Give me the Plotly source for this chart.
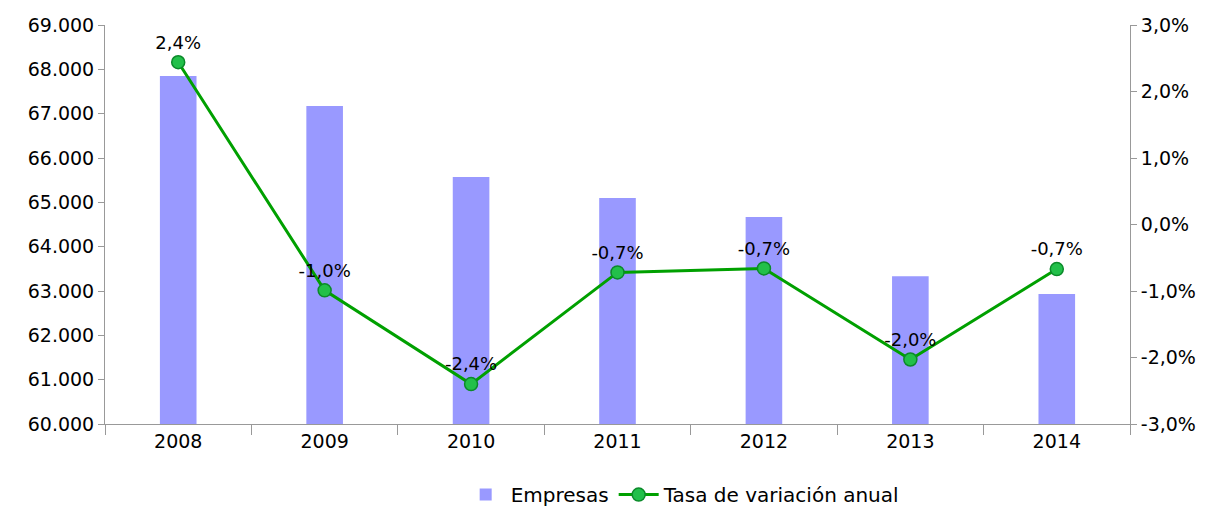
import plotly.graph_objects as go

years = ["2008", "2009", "2010", "2011", "2012", "2013", "2014"]
empresas = [67850, 67175, 65570, 65095, 64670, 63335, 62935]
tasa = [0.0244, -0.0099, -0.0240, -0.0072, -0.0066, -0.0203, -0.0067]

left_ticks = list(range(60000, 69001, 1000))
right_ticks = [-0.03, -0.02, -0.01, 0.0, 0.01, 0.02, 0.03]


def fmt_thousands(v):
    return f"{v:,d}".replace(",", ".")


def fmt_pct(v):
    s = f"{v * 100:.1f}".replace(".", ",")
    return s + "%"


FONT = "DejaVu Sans"

fig = go.Figure()
fig.add_trace(go.Bar(
    x=years, y=empresas, name="Empresas",
    marker=dict(color="#9999FF", line=dict(width=0)),
    width=0.25, yaxis="y",
))
fig.add_trace(go.Scatter(
    x=years, y=tasa, name="Tasa de variación anual",
    mode="lines+markers+text",
    line=dict(color="#00A000", width=3),
    marker=dict(size=13, color="#22C04A", line=dict(color="#0B8A2A", width=1.5)),
    texttemplate="%{y:.1%}", textposition="top center",
    textfont=dict(family=FONT, size=18, color="#000000"),
    yaxis="y2", cliponaxis=False,
))

fig.update_layout(
    width=1212, height=512,
    separators=",.",
    paper_bgcolor="white", plot_bgcolor="white",
    font=dict(family=FONT, size=19, color="#000000"),
    margin=dict(l=105, r=82, t=25, b=88, autoexpand=False),
    showlegend=True,
    legend=dict(orientation="h", x=0.347, xanchor="left", y=-0.128, yanchor="top",
                font=dict(family=FONT, size=20), traceorder="normal",
                itemwidth=40),
    xaxis=dict(
        type="category", showline=True, linecolor="#999999", linewidth=1,
        ticks="outside", tickson="boundaries", ticklen=10, tickcolor="#999999",
        showgrid=False, zeroline=False, tickfont=dict(size=19),
    ),
    yaxis=dict(
        range=[60000, 69000], tickvals=left_ticks,
        ticktext=[fmt_thousands(v) for v in left_ticks],
        showline=True, linecolor="#999999", linewidth=1,
        ticks="outside", ticklen=6, tickcolor="#999999",
        showgrid=False, zeroline=False, tickfont=dict(size=19),
    ),
    yaxis2=dict(
        range=[-0.03, 0.03], tickvals=right_ticks,
        ticktext=[fmt_pct(v) for v in right_ticks],
        overlaying="y", side="right",
        showline=True, linecolor="#999999", linewidth=1,
        ticks="outside", ticklen=6, tickcolor="#999999",
        showgrid=False, zeroline=False, tickfont=dict(size=19),
    ),
)

fig.write_html("out.html", config={"displayModeBar": False},
               post_script="document.body.style.margin='0';")
